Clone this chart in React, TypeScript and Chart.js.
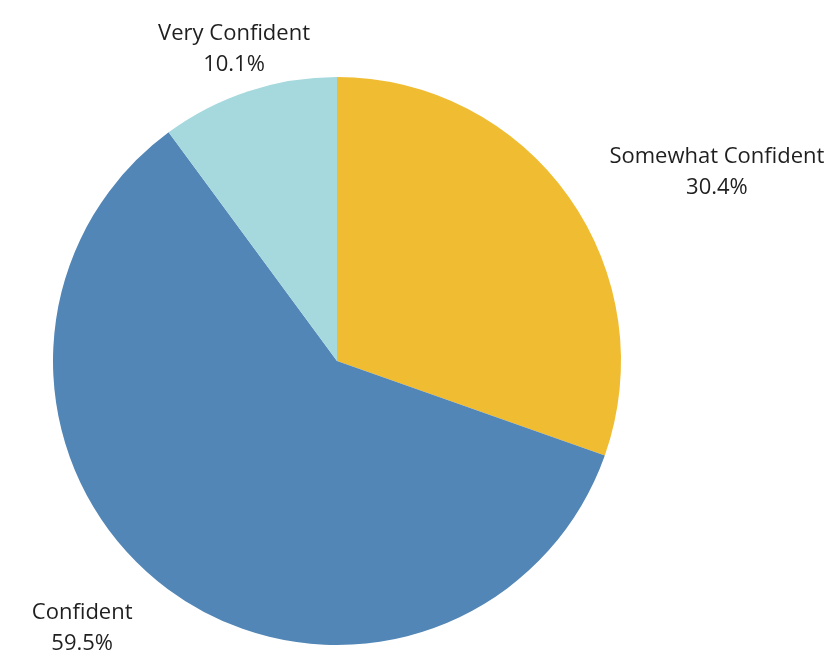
import React, { useEffect, useRef } from "react";
import { Chart, registerables } from "chart.js";

Chart.register(...registerables);

const categories = ["Somewhat Confident", "Confident", "Very Confident"];
const shares = [30.4, 59.5, 10.1];
const percentLabels = ["30.4%", "59.5%", "10.1%"];
const colors = ["#F0BC32", "#5186B6", "#A5D9DD"];

const FONT = '22px "Open Sans", sans-serif';

const outsideLabels = {
  id: "outsideLabels",
  afterDatasetsDraw(chart: any) {
    const ctx = chart.ctx;
    const meta = chart.getDatasetMeta(0);
    ctx.save();
    ctx.font = FONT;
    ctx.fillStyle = "#1f1f1f";
    ctx.textBaseline = "middle";
    meta.data.forEach((arc: any, i: number) => {
      const p = arc.getProps(["x", "y", "startAngle", "endAngle", "outerRadius"], true);
      const mid = (p.startAngle + p.endAngle) / 2;
      const R = p.outerRadius + 46;
      const ax = p.x + Math.cos(mid) * R;
      const ay = p.y + Math.sin(mid) * R + 2;
      const lines = [categories[i], percentLabels[i]];
      const widths = lines.map((l) => ctx.measureText(l).width);
      const bw = Math.max(...widths);
      const rel = Math.cos(mid);
      let center: number;
      if (rel > 0.45) center = ax + 3 + bw / 2;
      else if (rel < -0.45) center = ax - bw / 2 - 8;
      else center = ax;
      const lh = 31;
      ctx.textAlign = "center";
      lines.forEach((l, k) => {
        ctx.fillText(l, center, ay + (k - (lines.length - 1) / 2) * lh);
      });
    });
    ctx.restore();
  },
};

export default function App() {
  const ref = useRef<HTMLCanvasElement>(null);
  useEffect(() => {
    if (!ref.current) return;
    const chart = new Chart(ref.current, {
      type: "pie",
      data: {
        labels: categories,
        datasets: [
          {
            data: shares,
            backgroundColor: colors,
            borderWidth: 0,
          },
        ],
      },
      options: {
        responsive: false,
        animation: false,
        layout: { padding: { left: 53, right: 217, top: 77, bottom: 13 } },
        plugins: {
          legend: { display: false },
          tooltip: { enabled: false },
        },
      },
      plugins: [outsideLabels],
    });
    return () => chart.destroy();
  }, []);
  return (
    <div style={{ position: "fixed", left: 0, top: 0, width: 838, height: 658, background: "#fff" }}>
      <canvas ref={ref} width={838} height={658} style={{ width: 838, height: 658 }} />
    </div>
  );
}
